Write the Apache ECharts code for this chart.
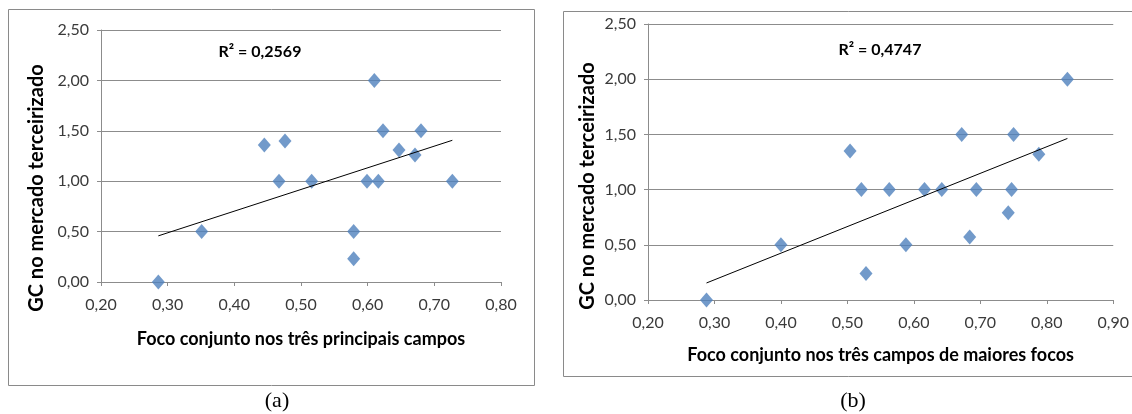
<!DOCTYPE html>
<html>
<head>
<meta charset="utf-8">
<script src="https://cdn.jsdelivr.net/npm/echarts@6/dist/echarts.min.js"></script>
<style>
html,body{margin:0;padding:0;background:#fff;}
#c{width:1132px;height:414px;}
</style>
</head>
<body>
<div id="c"></div>
<script>
// ---- data (a) ----
const focoA = [0.286,0.351,0.445,0.476,0.467,0.516,0.599,0.616,0.610,0.623,0.680,0.647,0.671,0.727,0.579,0.579];
const gcA   = [0.00, 0.50, 1.36, 1.40, 1.00, 1.00, 1.00, 1.00, 2.00, 1.50, 1.50, 1.31, 1.26, 1.00, 0.50, 0.23];
// ---- data (b) ----
const focoB = [0.288,0.400,0.504,0.521,0.528,0.563,0.588,0.616,0.642,0.672,0.684,0.694,0.742,0.747,0.750,0.788,0.831];
const gcB   = [0.00, 0.50, 1.35, 1.00, 0.24, 1.00, 0.50, 1.00, 1.00, 1.50, 0.57, 1.00, 0.79, 1.00, 1.50, 1.32, 2.00];
// ---- texts ----
const r2A = 'R² = 0,2569';
const r2B = 'R² = 0,4747';
const yTitle = 'GC no mercado terceirizado';
const xTitleA = 'Foco conjunto nos três principais campos';
const xTitleB = 'Foco conjunto nos três campos de maiores focos';
const captionA = '(a)';
const captionB = '(b)';
const xRangeA = [0.2, 0.8];
const xRangeB = [0.2, 0.9];
const yRange = [0, 2.5];

function pairs(xs, ys){ return xs.map((x,i)=>[x, ys[i]]); }
function trend(xs, ys){
  const n = xs.length;
  const mx = xs.reduce((a,b)=>a+b,0)/n, my = ys.reduce((a,b)=>a+b,0)/n;
  let sxy=0, sxx=0;
  for(let i=0;i<n;i++){ sxy+=(xs[i]-mx)*(ys[i]-my); sxx+=(xs[i]-mx)*(xs[i]-mx); }
  const b = sxy/sxx, a = my-b*mx;
  const x0 = Math.min(...xs), x1 = Math.max(...xs);
  return [[x0, a+b*x0],[x1, a+b*x1]];
}
const fmt = v => v.toFixed(2).replace('.', ',');
const FONT = 'Lato, "Open Sans", sans-serif';
const gridColor = '#8c8c8c';
const labelColor = '#3a3a3a';

function xAxis(idx, range, name, gap){
  return {
    type:'value', gridIndex:idx, min:range[0], max:range[1], interval:0.1,
    name:name, nameLocation:'middle', nameGap:gap,
    nameTextStyle:{fontFamily:FONT, fontWeight:'bold', fontSize:18, color:'#000'},
    axisLine:{show:true, onZero:false, lineStyle:{color:gridColor, width:1}},
    axisTick:{show:true, length:4, lineStyle:{color:gridColor}},
    axisLabel:{formatter:fmt, fontFamily:FONT, fontSize:16, color:labelColor, margin:15},
    splitLine:{show:false}
  };
}
function yAxis(idx){
  return {
    type:'value', gridIndex:idx, min:yRange[0], max:yRange[1], interval:0.5,
    axisLine:{show:true, lineStyle:{color:gridColor, width:1}},
    axisTick:{show:true, length:4, lineStyle:{color:gridColor}},
    axisLabel:{formatter:fmt, fontFamily:FONT, fontSize:16, color:labelColor, margin:12},
    splitLine:{show:true, lineStyle:{color:gridColor, width:1}}
  };
}
function scatter(idx, xs, ys){
  return {type:'scatter', xAxisIndex:idx, yAxisIndex:idx, data:pairs(xs,ys),
    symbol:'diamond', symbolSize:[13,15], itemStyle:{color:'#4f81bd'}, z:3};
}
function tline(idx, xs, ys){
  return {type:'line', xAxisIndex:idx, yAxisIndex:idx, data:trend(xs,ys),
    symbol:'none', lineStyle:{color:'#000', width:1}, silent:true, z:4};
}

const chart = echarts.init(document.getElementById('c'), null, {renderer:'canvas'});
chart.setOption({
  animation:false,
  backgroundColor:'#fff',
  grid:[
    {left:101, top:30, width:400, height:252},
    {left:648, top:24, width:468, height:276}
  ],
  xAxis:[ xAxis(0, xRangeA, xTitleA, 48), xAxis(1, xRangeB, xTitleB, 46) ],
  yAxis:[ yAxis(0), yAxis(1) ],
  series:[ scatter(0, focoA, gcA), tline(0, focoA, gcA), scatter(1, focoB, gcB), tline(1, focoB, gcB) ],
  graphic:[
    {type:'rect', shape:{x:8.5, y:9.5, width:526, height:376}, style:{fill:null, stroke:'#8a8a8a', lineWidth:1}, silent:true, z:-1},
    {type:'rect', shape:{x:563.5, y:11.5, width:620, height:365}, style:{fill:null, stroke:'#8a8a8a', lineWidth:1}, silent:true, z:-1},
    {type:'text', x:37, y:188, rotation:Math.PI/2, style:{text:yTitle, font:'bold 20px '+FONT, fill:'#000', textAlign:'center', textVerticalAlign:'middle'}},
    {type:'text', x:588, y:186, rotation:Math.PI/2, style:{text:yTitle, font:'bold 20px '+FONT, fill:'#000', textAlign:'center', textVerticalAlign:'middle'}},
    {type:'text', x:260, y:52, style:{text:r2A, font:'bold 16px '+FONT, fill:'#000', textAlign:'center', textVerticalAlign:'middle'}},
    {type:'text', x:880, y:50, style:{text:r2B, font:'bold 16px '+FONT, fill:'#000', textAlign:'center', textVerticalAlign:'middle'}},
    {type:'text', x:277, y:401, style:{text:captionA, font:'22px "Liberation Serif", serif', fill:'#000', textAlign:'center', textVerticalAlign:'middle'}},
    {type:'text', x:853, y:401, style:{text:captionB, font:'22px "Liberation Serif", serif', fill:'#000', textAlign:'center', textVerticalAlign:'middle'}}
  ]
});
</script>
</body>
</html>
